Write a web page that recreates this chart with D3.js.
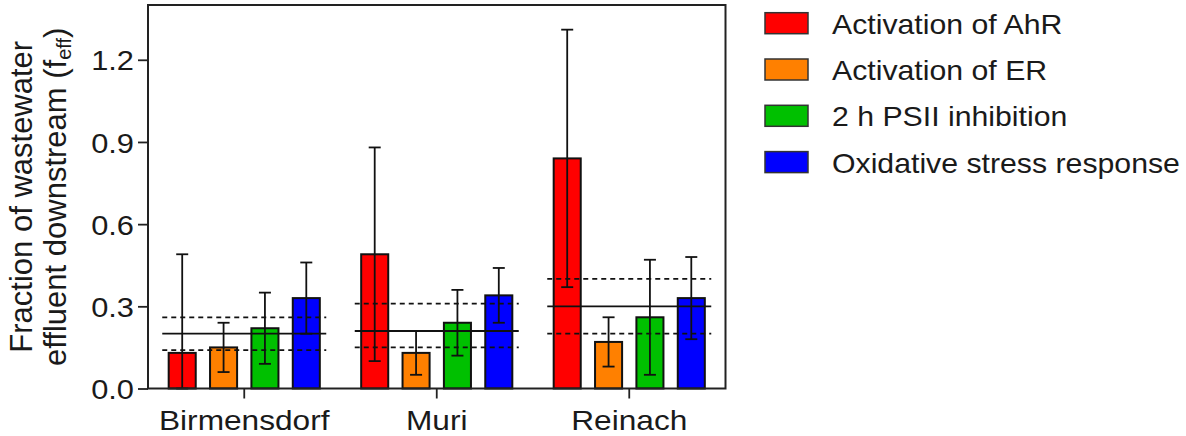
<!DOCTYPE html>
<html>
<head>
<meta charset="utf-8">
<script src="https://cdn.jsdelivr.net/npm/d3@7/dist/d3.min.js"></script>
<style>
  html, body { margin: 0; padding: 0; background: #fff; }
  text { font-family: "Liberation Sans", Arial, Helvetica, sans-serif; fill: #1a1a1a; }
</style>
</head>
<body>
<div id="viz"></div>
<script>
// sites on the x axis and the four bioassay endpoints
var sites = ['Birmensdorf', 'Muri', 'Reinach'],
    endpoints = ['Activation of AhR', 'Activation of ER', '2 h PSII inhibition', 'Oxidative stress response'],
    colors = ['#ff0000', '#ff8000', '#00c000', '#0000ff'],

    // f_eff per site, one array per endpoint
    ahrMean  = [0.13, 0.49, 0.84],
    ahrLow   = [0.00, 0.10, 0.37],
    ahrHigh  = [0.49, 0.88, 1.31],
    erMean   = [0.15, 0.13, 0.17],
    erLow    = [0.06, 0.05, 0.08],
    erHigh   = [0.24, 0.21, 0.26],
    psiiMean = [0.22, 0.24, 0.26],
    psiiLow  = [0.09, 0.12, 0.05],
    psiiHigh = [0.35, 0.36, 0.47],
    oxMean   = [0.33, 0.34, 0.33],
    oxLow    = [0.20, 0.24, 0.18],
    oxHigh   = [0.46, 0.44, 0.48],

    // f_eff from flow data (solid) with its range (dashed)
    flowMean = [0.20, 0.21, 0.30],
    flowLow  = [0.14, 0.15, 0.20],
    flowHigh = [0.26, 0.31, 0.40],

    yTicks = [0, 0.3, 0.6, 0.9, 1.2];

var means = [ahrMean, erMean, psiiMean, oxMean],
    lows  = [ahrLow, erLow, psiiLow, oxLow],
    highs = [ahrHigh, erHigh, psiiHigh, oxHigh];

var bars = [];
sites.forEach(function (s, i) {
    endpoints.forEach(function (e, j) {
        bars.push({site: s, ep: e, k: j, v: means[j][i], lo: lows[j][i], hi: highs[j][i]});
    });
});

var W = 1186, H = 436,
    plotL = 148, plotR = 725.5, plotT = 5, plotB = 388.5,
    stretch = 1.13;

var svg = d3.select('#viz').append('svg')
    .attr('width', W)
    .attr('height', H);

var x0 = d3.scaleBand().domain(sites).range([plotL, plotR]).padding(0),
    x1 = d3.scaleBand().domain(endpoints).range([0, x0.bandwidth()])
        .paddingInner(0.346).paddingOuter(0.5),
    y = d3.scaleLinear().domain([0, 1.4]).range([plotB, plotT]),
    color = d3.scaleOrdinal().domain(endpoints).range(colors);

var widen = function (sel, k) {
    sel.each(function () {
        var w = this.getComputedTextLength();
        d3.select(this).attr('textLength', w * k).attr('lengthAdjust', 'spacingAndGlyphs');
    });
};

// bars
svg.append('g').selectAll('rect')
    .data(bars)
    .enter().append('rect')
        .attr('x', function (d) { return x0(d.site) + x1(d.ep); })
        .attr('y', function (d) { return y(d.v); })
        .attr('width', x1.bandwidth())
        .attr('height', function (d) { return y(0) - y(d.v); })
        .style('fill', function (d) { return color(d.ep); })
        .style('stroke', '#111')
        .style('stroke-width', 2);

// error bars
var eb = svg.append('g').attr('class', 'errors').selectAll('g')
    .data(bars)
    .enter().append('g')
        .attr('transform', function (d) { return 'translate(' + (x0(d.site) + x1(d.ep) + x1.bandwidth() / 2) + ',0)'; })
        .style('stroke', '#111')
        .style('stroke-width', 1.8);

eb.append('line')
    .attr('y1', function (d) { return y(d.lo); })
    .attr('y2', function (d) { return y(d.hi); });
eb.append('line')
    .attr('x1', -6).attr('x2', 6)
    .attr('y1', function (d) { return y(d.hi); })
    .attr('y2', function (d) { return y(d.hi); });
eb.append('line')
    .attr('x1', -6).attr('x2', 6)
    .attr('y1', function (d) { return y(d.lo); })
    .attr('y2', function (d) { return y(d.lo); });

// flow based f_eff lines
var refs = svg.append('g').attr('class', 'refs');
var addRef = function (vals, dashed) {
    refs.selectAll(null)
        .data(sites)
        .enter().append('line')
            .attr('x1', function (s) { return x0(s) + x0.bandwidth() / 2 - 82; })
            .attr('x2', function (s) { return x0(s) + x0.bandwidth() / 2 + 82; })
            .attr('y1', function (s, i) { return y(vals[i]); })
            .attr('y2', function (s, i) { return y(vals[i]); })
            .style('stroke', '#111')
            .style('stroke-width', 1.8)
            .style('stroke-dasharray', dashed ? '5,4' : null);
};
addRef(flowMean, false);
addRef(flowLow, true);
addRef(flowHigh, true);

// frame
svg.append('rect')
    .attr('x', plotL).attr('y', plotT)
    .attr('width', plotR - plotL).attr('height', plotB - plotT)
    .style('fill', 'none')
    .style('stroke', '#222')
    .style('stroke-width', 2);

// y axis
var yAxis = svg.append('g')
    .attr('transform', 'translate(' + plotL + ',0)')
    .call(d3.axisLeft(y).tickValues(yTicks).tickFormat(d3.format('.1f')).tickSize(10).tickPadding(4));
yAxis.select('.domain').remove();
yAxis.selectAll('line').style('stroke', '#222').style('stroke-width', 1.8);
yAxis.selectAll('text').style('font-size', '28px').attr('dy', '0.36em').attr('fill', null);
widen(yAxis.selectAll('text'), 1.1);

// x axis
var xAxis = svg.append('g')
    .attr('transform', 'translate(0,' + plotB + ')')
    .call(d3.axisBottom(x0).tickSize(10).tickPadding(12));
xAxis.select('.domain').remove();
xAxis.selectAll('line').style('stroke', '#222').style('stroke-width', 1.8);
xAxis.selectAll('text').style('font-size', '28px').attr('dy', '0.71em').attr('fill', null);
widen(xAxis.selectAll('text'), stretch);

// y title, two lines
var title = svg.append('g')
    .attr('transform', 'translate(0,' + ((plotT + plotB) / 2) + ') rotate(-90)');
title.append('text')
    .attr('x', 0).attr('y', 32)
    .attr('text-anchor', 'middle')
    .style('font-size', '31px')
    .text('Fraction of wastewater');
var t2 = title.append('text')
    .attr('x', 0).attr('y', 66)
    .attr('text-anchor', 'middle')
    .style('font-size', '31px');
t2.append('tspan').text('effluent downstream (f');
t2.append('tspan').attr('dy', 5).style('font-size', '20px').text('eff');
t2.append('tspan').attr('dy', -5).text(')');

// legend
var legend = svg.append('g').selectAll('g')
    .data(endpoints)
    .enter().append('g')
        .attr('transform', function (d, i) { return 'translate(765,' + (12.7 + i * 46.3) + ')'; });
legend.append('rect')
    .attr('width', 43).attr('height', 21)
    .style('fill', function (d) { return color(d); })
    .style('stroke', '#333')
    .style('stroke-width', 1.5);
legend.append('text')
    .attr('x', 67).attr('y', 21)
    .style('font-size', '28px')
    .text(function (d) { return d; });
widen(legend.selectAll('text'), 1.08);
</script>
</body>
</html>
